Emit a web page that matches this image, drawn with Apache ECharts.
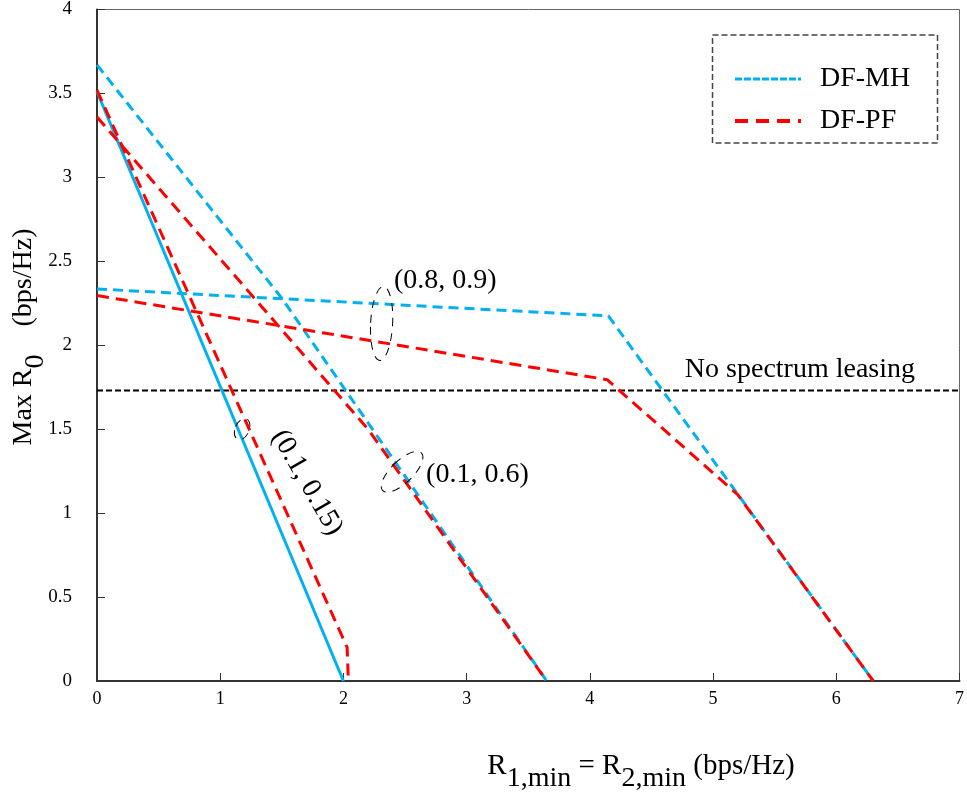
<!DOCTYPE html>
<html>
<head>
<meta charset="utf-8">
<script src="https://cdn.jsdelivr.net/npm/echarts@6/dist/echarts.min.js"></script>
<style>
  html, body { margin: 0; padding: 0; background: #fff; }
  #chart { width: 967px; height: 795px; }
</style>
</head>
<body>
<div id="chart"></div>
<script>
// Max R0 versus R1,min = R2,min for the DF-MH and DF-PF schemes,
// one curve per (alpha, beta) pair.

// DF-MH, (0.1, 0.15)
const mhLowX = [0, 2.0];
const mhLowY = [3.51, 0];
// DF-MH, (0.1, 0.6)
const mhMidX = [0, 1.5, 3.65];
const mhMidY = [3.67, 2.28, 0];
// DF-MH, (0.8, 0.9)
const mhHighX = [0, 4.15, 6.30];
const mhHighY = [2.335, 2.175, 0];

// DF-PF, (0.1, 0.15)
const pfLowX = [0, 2.03, 2.04];
const pfLowY = [3.52, 0.2, 0];
// DF-PF, (0.1, 0.6)
const pfMidX = [0, 2.2, 3.65];
const pfMidY = [3.36, 1.5, 0];
// DF-PF, (0.8, 0.9)
const pfHighX = [0, 4.14, 5.2, 6.30];
const pfHighY = [2.296, 1.795, 1.11, 0];

// Reference rate without spectrum leasing
const noLeasingX = [0, 7];
const noLeasingY = [1.73, 1.73];

const legendNames = ['DF-MH', 'DF-PF'];

const SERIF = "'Liberation Serif', 'Times New Roman', serif";
const BLUE = '#00B0F0';
const RED = '#FF0000';

function pairs(xs, ys) {
  return xs.map((x, i) => [x, ys[i]]);
}

function curve(name, xs, ys, color, dash) {
  return {
    type: 'line',
    name: name,
    data: pairs(xs, ys),
    symbol: 'none',
    silent: true,
    lineStyle: { color: color, width: 3, type: dash },
    itemStyle: { color: color },
    z: 3
  };
}

const chart = echarts.init(document.getElementById('chart'), null, { renderer: 'canvas' });

chart.setOption({
  animation: false,
  backgroundColor: '#fff',
  grid: {
    left: 97, right: 6, top: 5, bottom: 114,
    show: true, borderColor: '#666', borderWidth: 1
  },
  legend: {
    show: true,
    orient: 'vertical',
    left: 733, top: 65,
    padding: 0,
    itemWidth: 66, itemHeight: 14, itemGap: 14,
    selectedMode: false,
    textStyle: { fontFamily: SERIF, fontSize: 28, color: '#000', lineHeight: 28, padding: [0, 0, 0, 14] },
    data: [
      {
        name: legendNames[0],
        itemStyle: { opacity: 0 },
        lineStyle: { color: BLUE, width: 3, type: [7, 2], opacity: 1 }
      },
      {
        name: legendNames[1],
        itemStyle: { opacity: 0 },
        lineStyle: { color: RED, width: 4, type: [13, 8], opacity: 1 }
      }
    ]
  },
  xAxis: {
    type: 'value', min: 0, max: 7, interval: 1,
    axisLine: { show: true, onZero: false, lineStyle: { color: '#333', width: 2 } },
    axisTick: { show: true, inside: true, length: 8, lineStyle: { color: '#333', width: 1 } },
    splitLine: { show: false },
    axisLabel: { margin: 9, fontFamily: SERIF, fontSize: 18, color: '#000' }
  },
  yAxis: {
    type: 'value', min: 0, max: 4, interval: 0.5,
    axisLine: { show: true, onZero: false, lineStyle: { color: '#333', width: 2 } },
    axisTick: { show: true, inside: true, length: 8, lineStyle: { color: '#333', width: 1 } },
    splitLine: { show: false },
    axisLabel: { margin: 25, fontFamily: SERIF, fontSize: 19, color: '#000' }
  },
  series: [
    curve('DF-MH', mhMidX, mhMidY, BLUE, [10, 6]),
    curve('DF-MH', mhHighX, mhHighY, BLUE, [10, 6]),
    curve('DF-MH', mhLowX, mhLowY, BLUE, 'solid'),
    curve('DF-PF', pfLowX, pfLowY, RED, [12, 7]),
    curve('DF-PF', pfMidX, pfMidY, RED, [12, 7]),
    curve('DF-PF', pfHighX, pfHighY, RED, [12, 7]),
    {
      type: 'line',
      name: 'No spectrum leasing',
      data: pairs(noLeasingX, noLeasingY),
      symbol: 'none',
      silent: true,
      lineStyle: { color: '#000', width: 2, type: [6, 3] },
      z: 2
    }
  ]
});

// Curve-group notes and the dashed ellipses marking each group,
// anchored in data coordinates.
const notes = [
  { text: '(0.8, 0.9)', at: [2.41, 2.383], align: 'left', rotation: 0 },
  { text: '(0.1, 0.6)', at: [2.671, 1.229], align: 'left', rotation: 0 },
  { text: '(0.1, 0.15)', at: [1.704, 1.182], align: 'center', rotation: -Math.PI / 3 },
  { text: 'No spectrum leasing', at: [4.771, 1.856], align: 'left', rotation: 0 }
];
const rings = [
  { at: [2.31, 2.13], rx: 11, ry: 37, rotation: -0.05 },
  { at: [2.476, 1.246], rx: 11, ry: 27, rotation: -0.8 },
  { at: [1.178, 1.50], rx: 7, ry: 11, rotation: -0.4 }
];

function toPx(p) {
  return chart.convertToPixel({ xAxisIndex: 0, yAxisIndex: 0 }, p);
}

const graphics = [];
notes.forEach(n => {
  const [px, py] = toPx(n.at);
  graphics.push({
    type: 'text', x: px, y: py, rotation: n.rotation, silent: true, z: 10,
    style: {
      text: n.text, fill: '#000', font: '28px ' + SERIF,
      textAlign: n.align, textVerticalAlign: 'middle'
    }
  });
});
rings.forEach(r => {
  const [px, py] = toPx(r.at);
  graphics.push({
    type: 'ellipse', x: px, y: py, rotation: r.rotation, silent: true, z: 10,
    shape: { cx: 0, cy: 0, rx: r.rx, ry: r.ry },
    style: { fill: 'none', stroke: '#000', lineWidth: 1, lineDash: [8, 7] }
  });
});

// Dashed frame round the legend
graphics.push({
  type: 'rect', silent: true, z: 10,
  shape: { x: 712.5, y: 35, width: 225, height: 108 },
  style: { fill: 'none', stroke: '#444', lineWidth: 1.5, lineDash: [6, 3] }
});

// Axis titles with subscripts
graphics.push({
  type: 'text', x: 641, y: 766, silent: true,
  style: {
    text: '{r|R}{s|1,min}{r| = R}{s|2,min}{r| (bps/Hz)}',
    rich: {
      r: { fontFamily: SERIF, fontSize: 29, color: '#000' },
      s: { fontFamily: SERIF, fontSize: 28, color: '#000', padding: [26, 0, 0, 0] }
    },
    textAlign: 'center', textVerticalAlign: 'middle'
  }
});
graphics.push({
  type: 'text', x: 24, y: 337, rotation: Math.PI / 2, silent: true,
  style: {
    text: '{r|Max R}{s|0}{r|    (bps/Hz)}',
    rich: {
      r: { fontFamily: SERIF, fontSize: 28, color: '#000' },
      s: { fontFamily: SERIF, fontSize: 28, color: '#000', padding: [24, 0, 0, 0] }
    },
    textAlign: 'center', textVerticalAlign: 'middle'
  }
});

chart.setOption({ graphic: graphics });
</script>
</body>
</html>
